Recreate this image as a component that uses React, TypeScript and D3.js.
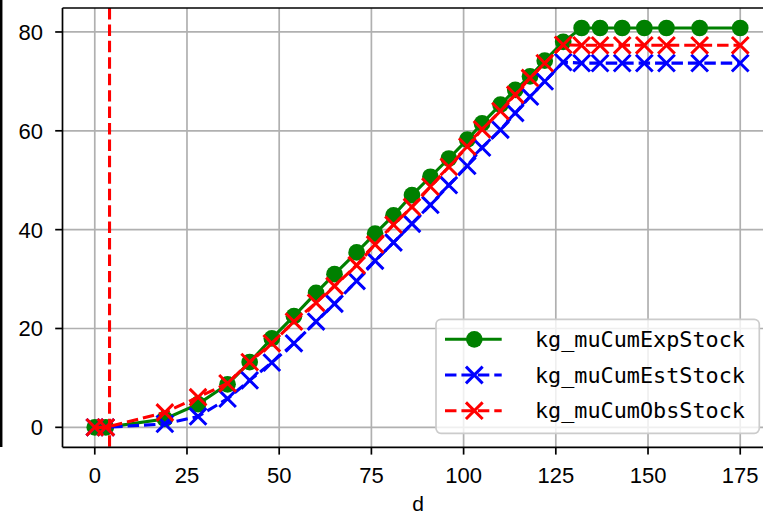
import React from "react";
import * as d3 from "d3";

const days = [0, 3, 19, 28, 36, 42, 48, 54, 60, 65, 71, 76, 81, 86, 91, 96, 101, 105, 110, 114, 118, 122, 127, 132, 137, 143, 149, 155, 164, 175];
const expStock = [0, 0, 1.7, 4.7, 8.7, 13.2, 18.0, 22.5, 27.2, 31.0, 35.4, 39.2, 42.9, 47.0, 50.7, 54.4, 58.2, 61.5, 65.3, 68.3, 71.0, 74.2, 78.0, 80.8, 80.8, 80.8, 80.8, 80.8, 80.8, 80.8];
const estStock = [0, 0, 0.7, 2.2, 5.8, 9.5, 13.1, 17.0, 21.4, 25.0, 29.6, 33.7, 37.4, 41.2, 45.0, 49.0, 52.9, 56.6, 60.2, 63.6, 66.9, 70.0, 73.9, 73.7, 73.7, 73.7, 73.7, 73.7, 73.7, 73.7];
const obsStock = [0, 0, 3.0, 6.1, 8.9, 13.2, 17.0, 21.4, 25.2, 28.6, 32.8, 37.0, 41.0, 44.6, 48.7, 52.7, 56.8, 60.3, 64.0, 67.3, 70.7, 73.7, 77.4, 77.3, 77.3, 77.3, 77.3, 77.3, 77.3, 77.3];
const seriesNames = ["kg_muCumExpStock", "kg_muCumEstStock", "kg_muCumObsStock"];
const xTicks = [0, 25, 50, 75, 100, 125, 150, 175];
const yTicks = [0, 20, 40, 60, 80];
const vLineX = 4;
const xLabel = "d";

const W = 763;
const H = 517;
const LEFT = 62.5;
const RIGHT = 772.5;
const TOP = 8;
const BOTTOM = 447.3;

const LW = 3.1;
const DASH = `${LW * 3.7},${LW * 1.6}`;
const MS = 16.7;
const TICK_FONT = "'Liberation Sans', Arial, sans-serif";
const MONO_FONT = "'DejaVu Sans Mono', monospace";

function XMark({ cx, cy, color }: { cx: number; cy: number; color: string }) {
  const h = MS / 2;
  return (
    <path
      d={`M${cx - h},${cy - h}L${cx + h},${cy + h}M${cx - h},${cy + h}L${cx + h},${cy - h}`}
      stroke={color}
      strokeWidth={3}
      fill="none"
    />
  );
}

export default function App() {
  const x = d3.scaleLinear().domain([-8.75, 183.75]).range([LEFT, RIGHT]);
  const y = d3.scaleLinear().domain([-4.04, 84.85]).range([BOTTOM, TOP]);

  const mk = (vals: number[]) =>
    d3
      .line<number>()
      .x((_, i) => x(days[i]))
      .y((v) => y(v))(vals) || "";

  const series = [
    { name: seriesNames[0], vals: expStock, color: "#008000", dash: undefined as string | undefined, marker: "o" },
    { name: seriesNames[1], vals: estStock, color: "#0000ff", dash: DASH, marker: "x" },
    { name: seriesNames[2], vals: obsStock, color: "#ff0000", dash: DASH, marker: "x" },
  ];

  const legX = 436;
  const legY = 319.3;
  const legW = 323.3;
  const legH = 114;
  const rowY = [339.3, 375, 410.7];

  return (
    <svg
      width={W}
      height={H}
      style={{ position: "absolute", left: 0, top: 0, background: "#fff" }}
    >
      <defs>
        <clipPath id="axclip">
          <rect x={LEFT} y={TOP} width={RIGHT - LEFT} height={BOTTOM - TOP} />
        </clipPath>
      </defs>
      <rect x={0} y={0} width={W} height={H} fill="#fff" />
      {/* stray left border */}
      <line x1={1.2} x2={1.2} y1={0} y2={447} stroke="#000" strokeWidth={2.5} />

      {/* grid */}
      {xTicks.map((t) => (
        <line key={"gx" + t} x1={x(t)} x2={x(t)} y1={TOP} y2={BOTTOM} stroke="#b0b0b0" strokeWidth={1.7} />
      ))}
      {yTicks.map((t) => (
        <line key={"gy" + t} x1={LEFT} x2={RIGHT} y1={y(t)} y2={y(t)} stroke="#b0b0b0" strokeWidth={1.7} />
      ))}

      {/* series */}
      <g clipPath="url(#axclip)">
        {series.map((s) => (
          <g key={s.name}>
            <path d={mk(s.vals)} fill="none" stroke={s.color} strokeWidth={LW} strokeDasharray={s.dash} />
            {s.vals.map((v, i) =>
              s.marker === "o" ? (
                <circle key={i} cx={x(days[i])} cy={y(v)} r={MS / 2} fill={s.color} />
              ) : (
                <XMark key={i} cx={x(days[i])} cy={y(v)} color={s.color} />
              )
            )}
          </g>
        ))}
        <line x1={x(vLineX)} x2={x(vLineX)} y1={TOP} y2={BOTTOM} stroke="#ff0000" strokeWidth={LW} strokeDasharray={DASH} />
      </g>

      {/* spines */}
      <line x1={LEFT} x2={LEFT} y1={TOP} y2={BOTTOM} stroke="#000" strokeWidth={1.7} />
      <line x1={LEFT} x2={RIGHT} y1={BOTTOM} y2={BOTTOM} stroke="#000" strokeWidth={1.7} />
      <line x1={LEFT} x2={RIGHT} y1={TOP} y2={TOP} stroke="#000" strokeWidth={1.7} />

      {/* x ticks */}
      {xTicks.map((t) => (
        <g key={"xt" + t}>
          <line x1={x(t)} x2={x(t)} y1={BOTTOM} y2={BOTTOM + 7.3} stroke="#000" strokeWidth={1.7} />
          <text x={x(t)} y={482.5} textAnchor="middle" fontFamily={TICK_FONT} fontSize={22} fill="#000">
            {t}
          </text>
        </g>
      ))}
      {/* y ticks */}
      {yTicks.map((t) => (
        <g key={"yt" + t}>
          <line x1={LEFT - 7.3} x2={LEFT} y1={y(t)} y2={y(t)} stroke="#000" strokeWidth={1.7} />
          <text x={43} y={y(t) + 7.9} textAnchor="end" fontFamily={TICK_FONT} fontSize={22} fill="#000">
            {t}
          </text>
        </g>
      ))}
      <text x={418} y={511} textAnchor="middle" fontFamily={TICK_FONT} fontSize={21} fill="#000">
        {xLabel}
      </text>

      {/* legend */}
      <rect x={legX} y={legY} width={legW} height={legH} rx={5} fill="#fff" fillOpacity={0.8} stroke="#cccccc" strokeWidth={1.7} />
      {series.map((s, i) => (
        <g key={"lg" + s.name}>
          <line
            x1={445}
            x2={501.7}
            y1={rowY[i]}
            y2={rowY[i]}
            stroke={s.color}
            strokeWidth={LW}
            strokeDasharray={s.dash}
          />
          {s.marker === "o" ? (
            <circle cx={474.3} cy={rowY[i]} r={MS / 2} fill={s.color} />
          ) : (
            <XMark cx={474.3} cy={rowY[i]} color={s.color} />
          )}
          <text x={535} y={rowY[i] + 7.5} fontFamily={MONO_FONT} fontSize={21.8} fill="#000">
            {s.name}
          </text>
        </g>
      ))}
    </svg>
  );
}
